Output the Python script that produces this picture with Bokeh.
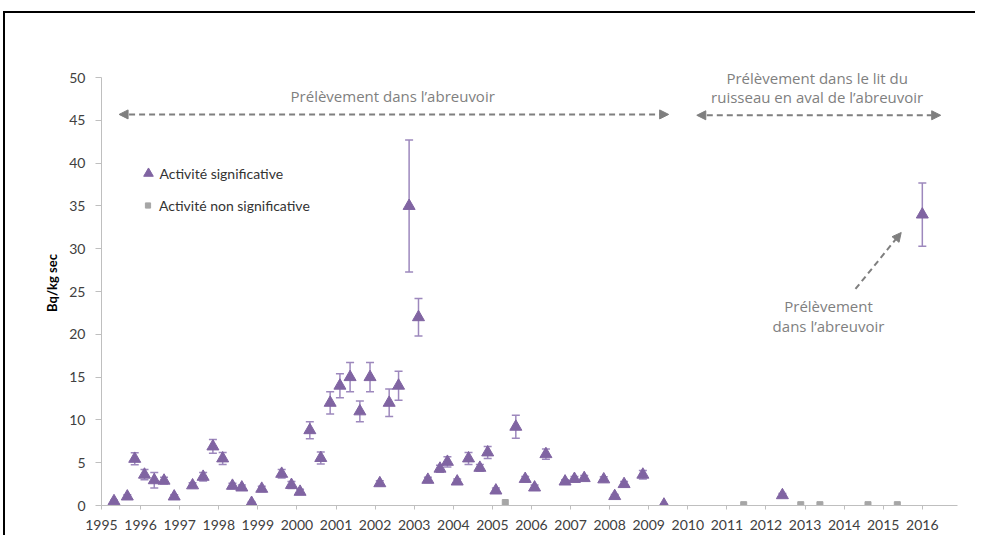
import numpy as np
from bokeh.plotting import figure
from bokeh.models import (ColumnDataSource, Whisker, TeeHead, Arrow, NormalHead, Legend,
                          LegendItem, FixedTicker, Range1d)
from bokeh.core.properties import value
from bokeh.embed import file_html
from bokeh.resources import INLINE

# ---- data ----
sig_year = [1995.32, 1995.66, 1995.85, 1996.10, 1996.35, 1996.60, 1996.86, 1997.33, 1997.60,
            1997.85, 1998.10, 1998.35, 1998.59, 1998.84, 1999.10, 1999.61, 1999.86, 2000.08,
            2000.33, 2000.61, 2000.85, 2001.10, 2001.36, 2001.61, 2001.87, 2002.12, 2002.36,
            2002.60, 2002.87, 2003.11, 2003.35, 2003.66, 2003.85, 2004.10, 2004.39, 2004.68,
            2004.88, 2005.09, 2005.60, 2005.84, 2006.08, 2006.37, 2006.86, 2007.10, 2007.35,
            2007.85, 2008.13, 2008.37, 2008.85, 2009.39, 2012.42, 2016.00]
sig_value = [0.5, 1.05, 5.45, 3.6, 2.95, 2.9, 1.05, 2.35, 3.35,
             6.9, 5.5, 2.3, 2.1, 0.3, 1.95, 3.7, 2.4, 1.6,
             8.8, 5.55, 12.0, 14.0, 15.0, 11.0, 15.0, 2.6, 12.0,
             14.0, 35.0, 22.0, 3.0, 4.3, 5.1, 2.8, 5.5, 4.4,
             6.2, 1.75, 9.2, 3.1, 2.1, 6.0, 2.8, 3.1, 3.2,
             3.05, 1.1, 2.5, 3.6, 0.1, 1.2, 34.0]
sig_err = [0.1, 0.2, 0.7, 0.6, 0.9, 0.4, 0.2, 0.3, 0.5,
           0.8, 0.7, 0.3, 0.3, 0.1, 0.3, 0.5, 0.4, 0.3,
           1.0, 0.7, 1.3, 1.4, 1.7, 1.2, 1.7, 0.3, 1.6,
           1.7, 7.7, 2.2, 0.3, 0.4, 0.6, 0.3, 0.7, 0.4,
           0.7, 0.3, 1.35, 0.3, 0.3, 0.6, 0.2, 0.3, 0.3,
           0.3, 0.2, 0.3, 0.5, 0.05, 0.2, 3.7]
nonsig_year = [2005.33, 2011.43, 2012.89, 2013.38, 2014.61, 2015.36]
nonsig_value = [0.35, 0.1, 0.1, 0.1, 0.1, 0.1]

x_ticks = list(range(1995, 2017))
y_ticks = list(range(0, 55, 5))

legend_labels = ["Activité significative", "Activité non significative"]
y_title = "Bq/kg sec"

# annotation texts and their anchor positions (data units)
note_text = ["Prélèvement dans l\u2019abreuvoir",
             "Prélèvement dans le lit du",
             "ruisseau en aval de l\u2019abreuvoir",
             "Prélèvement",
             "dans l\u2019abreuvoir"]
note_x = [2002.45, 2013.31, 2013.31, 2013.60, 2013.60]
note_y = [47.9, 49.95, 47.7, 23.36, 21.03]

# arrows: (x_start, y_start, x_end, y_end, double-headed)
arrows = [(1995.45, 45.7, 2009.51, 45.7, True),
          (2010.23, 45.6, 2016.47, 45.6, True),
          (2014.29, 25.3, 2015.46, 31.9, False)]

PURPLE = "#8064A2"
WHISK = "#9d88bd"
GREY = "#A6A6A6"
NOTE = "#7f7f7f"

p = figure(width=975, height=535, output_backend="svg", toolbar_location=None,
           x_range=Range1d(1995, 2016.9), y_range=Range1d(0, 52),
           min_border_left=101, min_border_right=18, min_border_top=60, min_border_bottom=30)
# thin black frame line along the top and left edge of the picture
p.styles = {"background-image": "linear-gradient(#000, #000), linear-gradient(#000, #000)",
            "background-size": "100% 2px, 2px 100%",
            "background-position": "4px 11px, 3px 11px",
            "background-repeat": "no-repeat"}
p.outline_line_color = None
p.xgrid.visible = False
p.ygrid.visible = False
p.background_fill_color = "white"
p.border_fill_color = None

lower = [v - e for v, e in zip(sig_value, sig_err)]
upper = [v + e for v, e in zip(sig_value, sig_err)]
src = ColumnDataSource(dict(x=sig_year, y=sig_value, lower=lower, upper=upper))

wh = Whisker(source=src, base="x", lower="lower", upper="upper", dimension="height",
             line_color=WHISK, line_width=1.5,
             upper_head=TeeHead(size=8, line_color=WHISK, line_width=1.5),
             lower_head=TeeHead(size=8, line_color=WHISK, line_width=1.5))
p.add_layout(wh)

r1 = p.scatter(x="x", y="y", source=src, marker="triangle", size=12,
               fill_color=PURPLE, line_color=PURPLE)
r2 = p.scatter(nonsig_year, nonsig_value, marker="square", size=6,
               fill_color=GREY, line_color=GREY)

# axes
for ax in (p.xaxis[0], p.yaxis[0]):
    ax.axis_line_color = "#bfbfbf"
    ax.axis_line_width = 1
    ax.major_tick_line_color = "#bfbfbf"
    ax.minor_tick_line_color = None
    ax.major_tick_in = 0
    ax.major_label_text_font = "Lato"
    ax.major_label_text_font_size = "14px"
    ax.major_label_text_color = "#404040"

p.xaxis.ticker = FixedTicker(ticks=x_ticks)
p.xaxis.major_tick_out = 4
p.xaxis.major_label_standoff = 10
p.yaxis.ticker = FixedTicker(ticks=y_ticks)
p.yaxis.bounds = (0, 50)
p.yaxis.major_tick_out = 6
p.yaxis.major_label_standoff = 10
p.yaxis.axis_label = y_title
p.yaxis.axis_label_text_font = "Lato"
p.yaxis.axis_label_text_font_size = "13px"
p.yaxis.axis_label_text_font_style = "bold"
p.yaxis.axis_label_text_color = "black"
p.yaxis.axis_label_standoff = 6

# annotation texts
p.text(x=note_x, y=note_y, text=note_text, text_font=value("Open Sans"),
       text_font_size="15px", text_color=NOTE, text_align="center",
       text_baseline="middle")

for xs, ys, xe, ye, both in arrows:
    head = lambda: NormalHead(size=9, fill_color=NOTE, line_color=NOTE, line_width=1)
    a = Arrow(x_start=xs, y_start=ys, x_end=xe, y_end=ye, end=head(),
              start=head() if both else None,
              line_color=NOTE, line_width=2, line_dash="6 4")
    p.add_layout(a)

common = dict(orientation="vertical", padding=0, margin=0, spacing=0,
              label_text_font="Lato", label_text_font_size="14px",
              label_text_color="#333333", border_line_color=None,
              background_fill_alpha=0)
legend1 = Legend(items=[LegendItem(label=legend_labels[0], renderers=[r1])],
                 location=(34.5, 318.7), glyph_width=24, glyph_height=26,
                 label_height=26, label_standoff=0, **common)
legend2 = Legend(items=[LegendItem(label=legend_labels[1], renderers=[r2])],
                 location=(40, 291.3), glyph_width=13, glyph_height=14,
                 label_height=14, label_standoff=5, **common)
p.add_layout(legend1)
p.add_layout(legend2)

open("out.html", "w").write(file_html(p, INLINE))
